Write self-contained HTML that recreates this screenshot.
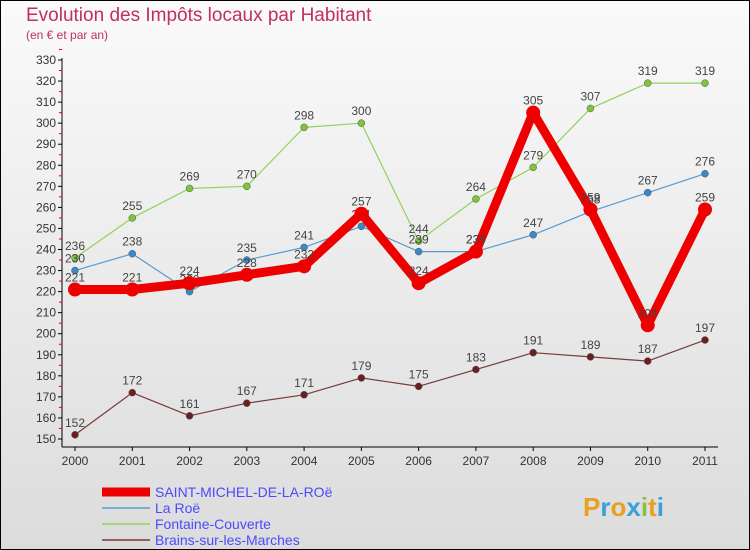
<!DOCTYPE html>
<html><head><meta charset="utf-8"><style>
body{margin:0;width:750px;height:550px;overflow:hidden;font-family:"Liberation Sans",sans-serif}
svg{display:block}
</style></head><body>
<svg width="750" height="550" xmlns="http://www.w3.org/2000/svg">
<defs><linearGradient id="bg" x1="0" y1="0" x2="0" y2="1"><stop offset="0" stop-color="#fafafa"/><stop offset="1" stop-color="#dcdcdc"/></linearGradient></defs>
<rect x="0.5" y="0.5" width="749" height="549" fill="url(#bg)" stroke="#000"/>
<text x="26" y="21" font-size="19" fill="#c0305a">Evolution des Impôts locaux par Habitant</text>
<text x="26" y="39" font-size="12" fill="#c0305a">(en € et par an)</text>
<g id="axes"></g>
<g id="series"></g>
<g id="legend"></g>
<text x="583" y="516" font-size="26" font-weight="bold"><tspan fill="#e8a020">P</tspan><tspan fill="#3aa0d8">r</tspan><tspan fill="#e8a020">o</tspan><tspan fill="#3aa0d8">x</tspan><tspan fill="#8cc040">i</tspan><tspan fill="#e8a020">t</tspan><tspan fill="#3aa0d8">i</tspan></text>
</svg>
<script>
const years=[2000,2001,2002,2003,2004,2005,2006,2007,2008,2009,2010,2011];
const yTicks=[150,160,170,180,190,200,210,220,230,240,250,260,270,280,290,300,310,320,330];
const saintMichel=[221,221,224,228,232,257,224,239,305,259,204,259];
const laRoe=[230,238,220,235,241,251,239,239,247,258,267,276];
const fontaine=[236,255,269,270,298,300,244,264,279,307,319,319];
const brains=[152,172,161,167,171,179,175,183,191,189,187,197];
const NS="http://www.w3.org/2000/svg";
const x=i=>75+i*(705-75)/(years.length-1);
const y=v=>439-(v-150)*(439-60)/180;
function mk(tag,attrs,parent){const e=document.createElementNS(NS,tag);for(const k in attrs)e.setAttribute(k,attrs[k]);parent.appendChild(e);return e;}
const axes=document.getElementById('axes');
let a=mk('line',{x1:62,y1:58,x2:62,y2:447,stroke:'#000'},axes);


a=mk('line',{x1:62,y1:447,x2:718,y2:447,stroke:'#000'},axes);


yTicks.forEach(t=>{
 mk('line',{x1:58,y1:y(t),x2:62,y2:y(t),stroke:'#000'},axes);
 mk('line',{x1:59,y1:y(t+5),x2:62,y2:y(t+5),stroke:'#e00'},axes);
 const tx=mk('text',{x:56,y:y(t)+4,'font-size':12,'text-anchor':'end',fill:'#333'},axes);
 tx.textContent=t;
 
 
});
years.forEach((yr,i)=>{
 mk('line',{x1:x(i),y1:447,x2:x(i),y2:451,stroke:'#000'},axes);
 const tx=mk('text',{x:x(i),y:465,'font-size':12,'text-anchor':'middle',fill:'#333'},axes);
 tx.textContent=yr;
 
 
});
const series=[
 {name:'fontaine-couverte',data:fontaine,color:'#8fd35a',w:1.2,r:3.5,fill:'#7cc43c',label:'Fontaine-Couverte'},
 {name:'brains-sur-les-marches',data:brains,color:'#7a3a3a',w:1.2,r:3.5,fill:'#6a2020',label:'Brains-sur-les-Marches'},
 {name:'la-roe',data:laRoe,color:'#5a9bd0',w:1.2,r:3.5,fill:'#3a88c8',label:'La Roë'},
 {name:'saint-michel-de-la-roe',data:saintMichel,color:'#ee0000',w:9,r:7,fill:'#ee0000',label:'SAINT-MICHEL-DE-LA-ROë'}
];
const sg=document.getElementById('series');
series.forEach(s=>{
 const g=mk('g',{},sg);
 
 
 const p=mk('polyline',{points:s.data.map((v,i)=>x(i)+','+y(v)).join(' '),fill:'none',stroke:s.color,'stroke-width':s.w,'stroke-linejoin':'round'},g);
 
 
 s.data.forEach((v,i)=>{
  const c=mk('circle',{cx:x(i),cy:y(v),r:s.r,fill:s.fill,stroke:s.w>2?'none':'#555','stroke-width':0.5},g);
  
  
  const t=mk('text',{x:x(i),y:y(v)-8,'font-size':12,'text-anchor':'middle',fill:'#444'},g);
  t.textContent=v;
  
  
 });
});
const lg=document.getElementById('legend');
const order=[3,2,0,1];
order.forEach((k,j)=>{
 const s=series[k];const ly=492+j*16;
 const l=mk('line',{x1:102,y1:ly,x2:150,y2:ly,stroke:s.color,'stroke-width':k==3?9:1.5},lg);
 
 
 const t=mk('text',{x:155,y:ly+5,'font-size':14,fill:'#4a4aff'},lg);
 t.textContent=s.label;
 
 
});
</script>
</body></html>
